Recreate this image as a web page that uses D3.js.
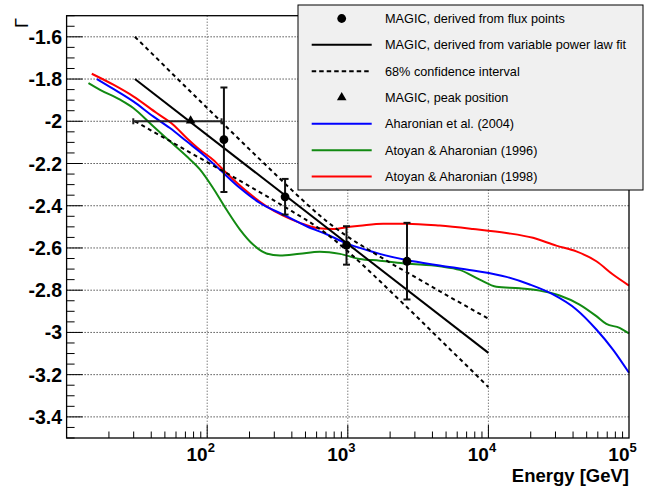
<!DOCTYPE html>
<html><head><meta charset="utf-8">
<script src="https://cdn.jsdelivr.net/npm/d3@7"></script>
<style>body{margin:0;background:#fff;} svg{display:block;} text{font-family:"Liberation Sans",Arial,Helvetica,sans-serif;}</style>
</head><body><svg id="c" width="654" height="495"></svg>
<script>
// ---------------- data ----------------
const magicE      = [131.5, 358, 979, 2636];
const magicG      = [-2.087, -2.358, -2.587, -2.663];
const magicErrLo  = [-2.335, -2.442, -2.679, -2.844];
const magicErrHi  = [-1.840, -2.273, -2.497, -2.481];

const peakE   = [76.2];
const peakG   = [-2.0];
const peakELo = [29.8];
const peakEHi = [126.5];

const fitE = [30.6, 10000];
const fitG = [-1.800, -3.097];

const ciE  = [30.6, 40, 60, 100, 150, 200, 300, 400, 500, 700, 1000, 1500, 2000, 3000, 5000, 7000, 10000];
const ciUp = [-1.600, -1.676, -1.792, -1.937, -2.052, -2.133, -2.246, -2.326, -2.386, -2.471, -2.547, -2.620, -2.670, -2.737, -2.822, -2.877, -2.935];
const ciLo = [-2.000, -2.044, -2.110, -2.194, -2.260, -2.308, -2.376, -2.426, -2.465, -2.531, -2.616, -2.724, -2.804, -2.917, -3.062, -3.157, -3.259];

const aharonian2004E = [16.4, 21.5, 29.8, 41.3, 54.3, 71.4, 93.8, 123, 171, 237, 347, 509, 706, 979, 1400, 1688, 2612, 4504, 7780, 13430, 19670, 28800, 42200, 58600, 76900, 100000];
const aharonian2004G = [-1.800, -1.847, -1.906, -1.977, -2.032, -2.095, -2.158, -2.229, -2.316, -2.387, -2.442, -2.497, -2.535, -2.578, -2.612, -2.628, -2.657, -2.683, -2.707, -2.737, -2.773, -2.820, -2.891, -2.986, -3.081, -3.191];

const atoyan1996E = [14.3, 17.3, 24.0, 29.8, 41.3, 54.3, 71.4, 88.7, 110, 137, 171, 212, 264, 329, 456, 632, 880, 1216, 1688, 2612, 4504, 6250, 8670, 11400, 16700, 23100, 32100, 44500, 58600, 69000, 85700, 100000];
const atoyan1996G = [-1.819, -1.851, -1.898, -1.937, -2.024, -2.095, -2.166, -2.228, -2.316, -2.418, -2.513, -2.584, -2.626, -2.636, -2.627, -2.618, -2.628, -2.652, -2.660, -2.674, -2.687, -2.704, -2.750, -2.784, -2.791, -2.802, -2.825, -2.868, -2.923, -2.960, -2.978, -3.005];

const atoyan1998E = [15.1, 21.5, 29.8, 43.7, 57.3, 71.4, 88.7, 110, 137, 191, 264, 347, 456, 599, 787, 1033, 1216, 1782, 2612, 4504, 7780, 13430, 20750, 30400, 42200, 58600, 76900, 100000];
const atoyan1998G = [-1.775, -1.827, -1.882, -1.961, -2.016, -2.079, -2.135, -2.182, -2.245, -2.332, -2.403, -2.447, -2.481, -2.505, -2.510, -2.500, -2.495, -2.485, -2.485, -2.494, -2.510, -2.529, -2.552, -2.589, -2.616, -2.663, -2.726, -2.778];

const yTicks = [-3.4, -3.2, -3, -2.8, -2.6, -2.4, -2.2, -2, -1.8, -1.6];
const yTickLabels = ["-3.4", "-3.2", "-3", "-2.8", "-2.6", "-2.4", "-2.2", "-2", "-1.8", "-1.6"];
const xTicks = [100, 1000, 10000, 100000];
const xTickExp = ["2", "3", "4", "5"];

const legendLabels = [
  "MAGIC, derived from flux points",
  "MAGIC, derived from variable power law fit",
  "68% confidence interval",
  "MAGIC, peak position",
  "Aharonian et al. (2004)",
  "Atoyan & Aharonian (1996)",
  "Atoyan & Aharonian (1998)"
];
const legendKinds = ["circle", "solid", "dashed", "triangle", "blue", "green", "red"];

// ---------------- layout ----------------
const X0 = 66.6, X1 = 629, Y0 = 438, Y1 = 15.7;
const colors = {blue: "#0000ff", green: "#128a12", red: "#ff0000"};
const svg = d3.select("#c");
const x = d3.scaleLog().domain([10, 1e5]).range([X0, X1]);
const y = d3.scaleLinear().domain([-3.5, -1.5]).range([Y0, Y1]);

// grid
const grid = svg.append("g");
yTicks.forEach(v => grid.append("line").attr("x1", X0).attr("x2", X1).attr("y1", y(v)).attr("y2", y(v))
  .attr("stroke", "#000").attr("stroke-width", 1).attr("stroke-dasharray", "1,2"));
xTicks.slice(0, 3).forEach(v => grid.append("line").attr("x1", x(v)).attr("x2", x(v)).attr("y1", Y1).attr("y2", Y0)
  .attr("stroke", "#444").attr("stroke-width", 1).attr("stroke-dasharray", "1,2"));

// model curves
const line = d3.line().x(d => x(d[0])).y(d => y(d[1])).curve(d3.curveMonotoneX);
function drawCurve(E, G, col, w, dash) {
  const p = svg.append("path").datum(E.map((e, i) => [e, G[i]])).attr("d", line)
    .attr("fill", "none").attr("stroke", col).attr("stroke-width", w);
  if (dash) p.attr("stroke-dasharray", dash);
}
drawCurve(atoyan1996E, atoyan1996G, colors.green, 2);
drawCurve(atoyan1998E, atoyan1998G, colors.red, 2);
drawCurve(aharonian2004E, aharonian2004G, colors.blue, 2);

// fit & CI
drawCurve(fitE, fitG, "#000", 2);
drawCurve(ciE, ciUp, "#000", 2, "4,3.5");
drawCurve(ciE, ciLo, "#000", 2, "4,3.5");

// peak position with horizontal error bar
const pk = svg.append("g").attr("stroke", "#222").attr("stroke-width", 2);
peakE.forEach((e, i) => {
  pk.append("line").attr("x1", x(peakELo[i])).attr("x2", x(peakEHi[i])).attr("y1", y(peakG[i])).attr("y2", y(peakG[i]));
  [peakELo[i], peakEHi[i]].forEach(b => pk.append("line").attr("x1", x(b)).attr("x2", x(b)).attr("y1", y(peakG[i]) - 3).attr("y2", y(peakG[i]) + 3));
  svg.append("path").attr("d", d3.symbol(d3.symbolTriangle, 40)()).attr("transform", `translate(${x(e)},${y(peakG[i]) - 0.5})`).attr("fill", "#000");
});

// flux points with vertical error bars
const eb = svg.append("g").attr("stroke", "#111").attr("stroke-width", 2);
magicE.forEach((e, i) => {
  const cx = x(e);
  eb.append("line").attr("x1", cx).attr("x2", cx).attr("y1", y(magicErrLo[i])).attr("y2", y(magicErrHi[i]));
  [magicErrLo[i], magicErrHi[i]].forEach(b => eb.append("line").attr("x1", cx - 3.5).attr("x2", cx + 3.5).attr("y1", y(b)).attr("y2", y(b)));
  svg.append("circle").attr("cx", cx).attr("cy", y(magicG[i])).attr("r", 4.4).attr("fill", "#000");
});

// frame
svg.append("rect").attr("x", X0).attr("y", Y1).attr("width", X1 - X0).attr("height", Y0 - Y1)
  .attr("fill", "none").attr("stroke", "#000").attr("stroke-width", 1.3);

// y ticks
const ax = svg.append("g").attr("stroke", "#000").attr("stroke-width", 1);
for (let k = 0; k <= 40; k++) {
  const v = -3.5 + k * 0.05;
  const major = Math.abs(Math.round(v * 5) - v * 5) < 1e-6;
  ax.append("line").attr("x1", X0).attr("x2", X0 + (major ? 16 : 8)).attr("y1", y(v)).attr("y2", y(v));
}
// x ticks
for (let d = 1; d <= 4; d++) {
  for (let m = 1; m <= 9; m++) {
    const v = m * Math.pow(10, d);
    if (m === 1 && d === 1) continue;
    ax.append("line").attr("x1", x(v)).attr("x2", x(v)).attr("y1", Y0).attr("y2", Y0 - (m === 1 ? 13 : 6.5));
  }
}

// y tick labels
yTicks.forEach((v, i) => svg.append("text").attr("x", 62).attr("y", y(v)).attr("dy", "0.36em")
  .attr("text-anchor", "end").attr("font-size", 19.5).attr("font-weight", "bold").text(yTickLabels[i]));
// x tick labels
xTicks.forEach((v, i) => {
  svg.append("text").attr("x", x(v) + 0.5).attr("y", 460.5).attr("text-anchor", "end")
    .attr("font-size", 19).attr("font-weight", "bold").text("10");
  svg.append("text").attr("x", x(v) + 0.5).attr("y", 451.5).attr("text-anchor", "start")
    .attr("font-size", 13).attr("font-weight", "bold").text(xTickExp[i]);
});

// axis titles
svg.append("text").attr("x", 629).attr("y", 481.5).attr("text-anchor", "end")
  .attr("font-size", 18.5).attr("font-weight", "bold").text("Energy [GeV]");
svg.append("text").attr("transform", "translate(28,18) rotate(-90)").attr("text-anchor", "end")
  .attr("font-size", 18).text("Γ");

// legend
const lg = svg.append("g");
lg.append("rect").attr("x", 298).attr("y", 5).attr("width", 345).attr("height", 185)
  .attr("fill", "#f0f0f0").attr("stroke", "#000").attr("stroke-width", 1);
legendLabels.forEach((lab, i) => {
  const cy = 18.5 + i * 26.33;
  const k = legendKinds[i];
  if (k === "circle") lg.append("circle").attr("cx", 341.7).attr("cy", cy).attr("r", 4.4).attr("fill", "#000");
  else if (k === "triangle") lg.append("path").attr("d", d3.symbol(d3.symbolTriangle, 40)()).attr("transform", `translate(341.7,${cy})`).attr("fill", "#000");
  else {
    const col = k === "solid" || k === "dashed" ? "#000" : colors[k];
    const l = lg.append("line").attr("x1", 311.7).attr("x2", 371.7).attr("y1", cy).attr("y2", cy)
      .attr("stroke", col).attr("stroke-width", 2);
    if (k === "dashed") l.attr("stroke-dasharray", "4.5,3");
  }
  lg.append("text").attr("x", 385).attr("y", cy).attr("dy", "0.35em").attr("font-size", 12.7).attr("fill", "#000").text(lab);
});
</script>
</body></html>
